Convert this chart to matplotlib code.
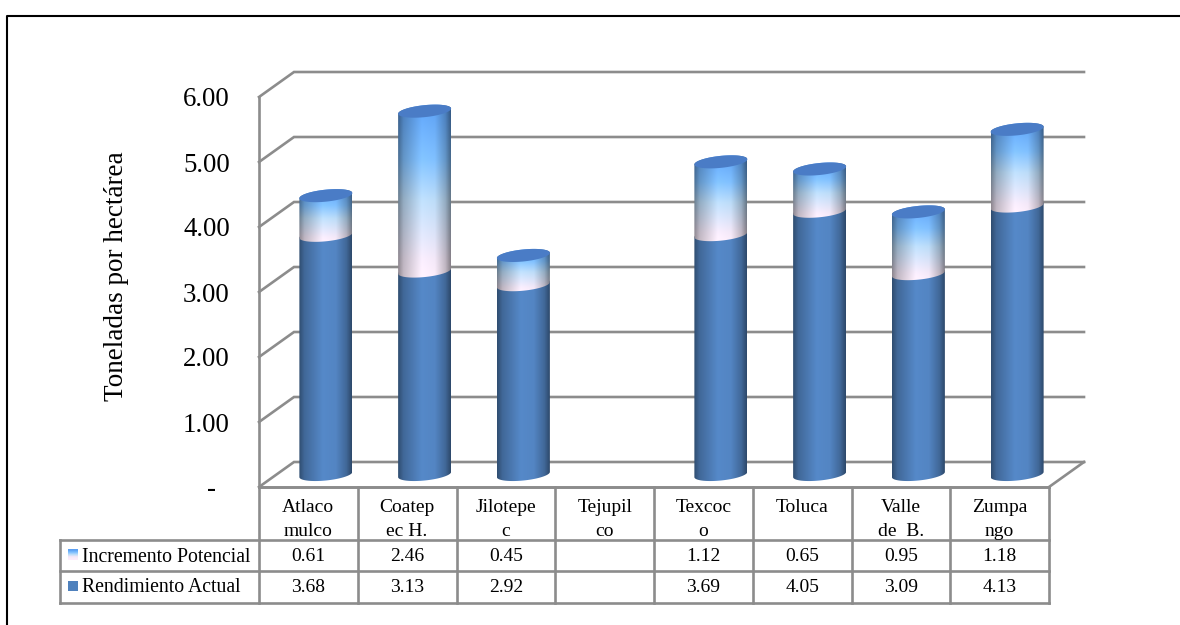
import numpy as np
import matplotlib
matplotlib.use('Agg')
import matplotlib.pyplot as plt
from matplotlib.colors import to_rgb
from matplotlib.lines import Line2D
from matplotlib.patches import PathPatch, Rectangle
from matplotlib.path import Path

plt.rcParams['font.family'] = ['Liberation Serif', 'DejaVu Serif']

# regions and yields in t/ha (Tejupilco has no data)
regiones = [['Atlaco', 'mulco'], ['Coatep', 'ec H.'], ['Jilotepe', 'c'], ['Tejupil', 'co'],
            ['Texcoc', 'o'], ['Toluca'], ['Valle', 'de  B.'], ['Zumpa', 'ngo']]
rendimiento = [3.68, 3.13, 2.92, None, 3.69, 4.05, 3.09, 4.13]
incremento = [0.61, 2.46, 0.45, None, 1.12, 0.65, 0.95, 1.18]
ticks_y = [0, 1, 2, 3, 4, 5, 6]
etiquetas_y = ['-  ', '1.00', '2.00', '3.00', '4.00', '5.00', '6.00']

GRIS = '#8c8c8c'
LW = 1.9
W, H = 1180, 625

fig = plt.figure(figsize=(W / 100, H / 100), dpi=100, facecolor='white')

# frame around the chart
fig.add_artist(Line2D([6.5 / W, 6.5 / W, 1], [0, 1 - 15.5 / H, 1 - 15.5 / H], color='black', lw=1.5))

# front plane of the 3D box: one x unit per region, y in t/ha
ax = fig.add_axes([259 / W, 1 - 487 / H, 790 / W, 390 / H])
ax.patch.set_visible(False)
ax.set_xlim(0, 8)
ax.set_ylim(0, 6)

px_x = 8 / 790
px_y = 6 / 390
fondo_x = 35 * px_x    # depth of the box
fondo_y = 25 * px_y
radio_x = 26.5 * px_x
radio_y = 6.0 * px_y
giro = 2.6 * px_y      # ellipses rise slightly to the right

for s in ['top', 'right']:
    ax.spines[s].set_visible(False)
for s in ['left', 'bottom']:
    ax.spines[s].set_color(GRIS)
    ax.spines[s].set_linewidth(LW)
ax.set_xticks([])
ax.set_yticks(ticks_y)
ax.set_yticklabels(etiquetas_y, fontsize=19.4)
ax.tick_params(axis='y', length=0, pad=21)
ax.set_ylabel('Toneladas por hectárea', fontsize=19.5)
ax.yaxis.set_label_coords(-130 / 790, 211 / 390)

# back wall gridlines and floor
for v in ticks_y:
    ax.plot([0, fondo_x, 8 + fondo_x], [v, v + fondo_y, v + fondo_y],
            color=GRIS, lw=LW, clip_on=False, zorder=1, solid_joinstyle='miter')
ax.plot([8, 8 + fondo_x], [0, fondo_y], color=GRIS, lw=LW, clip_on=False, zorder=1)

# horizontal shading across the cylinder
U_SOMBRA = [-1, -0.8, -0.1, 0.4, 0.8, 1]
F_SOMBRA = [0.58, 0.78, 1.03, 1.0, 0.78, 0.55]

# vertical colour of the upper segment, from bottom (0) to top (1)
T_CLARO = [0, 0.12, 0.45, 0.68, 1]
C_CLARO = [to_rgb(c) for c in ['#fdeefb', '#f3e8f8', '#bcdcf8', '#80c0ff', '#5b9ff2']]


def elipse(cx, cy, t):
    return np.column_stack([cx + radio_x * np.cos(t),
                            cy + radio_y * np.sin(t) + giro * np.cos(t)])


def segmento(cx, v0, v1, colores, z):
    # side of a cylinder between two values, filled with a clipped gradient
    y0 = v0 + fondo_y / 2
    y1 = v1 + fondo_y / 2
    abajo = elipse(cx, y0, np.linspace(np.pi, 2 * np.pi, 60))
    arriba = elipse(cx, y1, np.linspace(0, np.pi, 60))
    borde = np.vstack([abajo, arriba, abajo[:1]])
    u = np.linspace(-1, 1, 80)
    sombra = np.interp(u, U_SOMBRA, F_SOMBRA)
    t = np.linspace(1, 0, 120)
    rgb = np.stack([np.interp(t, [x[0] for x in colores], [x[1][k] for x in colores])
                    for k in range(3)], axis=1)
    img = np.clip(rgb[:, None, :] * sombra[None, :, None], 0, 1)
    margen = radio_y + giro
    im = ax.imshow(img, aspect='auto', interpolation='bilinear', zorder=z,
                   extent=[cx - radio_x, cx + radio_x, y0 - margen, y1 + margen])
    im.set_clip_path(PathPatch(Path(borde), transform=ax.transData))


for i, (r, d) in enumerate(zip(rendimiento, incremento)):
    if r is None:
        continue
    cx = i + 0.5 + fondo_x / 2
    azul = to_rgb('#5385c3')
    segmento(cx, 0, r, [(0, azul), (1, azul)], 3 + i * 0.1)
    segmento(cx, r, r + d, list(zip(T_CLARO, C_CLARO)), 3.03 + i * 0.1)
    tapa = elipse(cx, r + d + fondo_y / 2, np.linspace(0, 2 * np.pi, 80))
    ax.fill(tapa[:, 0], tapa[:, 1], color='#4a7cc6', lw=0, zorder=3.06 + i * 0.1)

ax.set_xlim(0, 8)
ax.set_ylim(0, 6)

# data table under the chart, x in region units and y in rows of pixels
tb = fig.add_axes([60 / W, 1 - 603 / H, 989 / W, 116 / H])
tb.axis('off')
x_ini = -199 / 98.75
y_filas = [116, 63, 32, 0]

for i in range(9):
    tb.plot([i, i], [0, 116], color=GRIS, lw=LW, clip_on=False)
tb.plot([x_ini, x_ini], [0, 63], color=GRIS, lw=LW, clip_on=False)
tb.plot([0, 8], [116, 116], color=GRIS, lw=LW, clip_on=False)
for y in y_filas[1:]:
    tb.plot([x_ini, 8], [y, y], color=GRIS, lw=LW, clip_on=False)

for i, nombre in enumerate(regiones):
    for linea, yc in zip(nombre, (95, 72)):
        tb.text(i + 0.5, yc, linea, ha='center', va='center', fontsize=14)
    for fila, yc in ((incremento, 46.5), (rendimiento, 15)):
        if fila[i] is not None:
            tb.text(i + 0.5, yc, f'{fila[i]:.2f}', ha='center', va='center', fontsize=14)

# legend keys inside the first table column
clave_x = x_ini + 8 / 98.75
ancho = 10 / 98.75
degradado = np.array([C_CLARO[k] for k in (4, 3, 2, 1, 0)])[:, None, :]
tb.imshow(degradado, aspect='auto', interpolation='bilinear',
          extent=[clave_x, clave_x + ancho, 43, 54], zorder=3)
tb.add_patch(Rectangle((clave_x, 12), ancho, 10, color='#4f81bd', lw=0))
tb.set_xlim(x_ini, 8)
tb.set_ylim(0, 116)

tb.text(x_ini + 21.5 / 98.75, 46, 'Incremento Potencial', va='center', fontsize=14.2)
tb.text(x_ini + 21.5 / 98.75, 15.5, 'Rendimiento Actual', va='center', fontsize=14.2)

fig.savefig('out.png', dpi=100)
